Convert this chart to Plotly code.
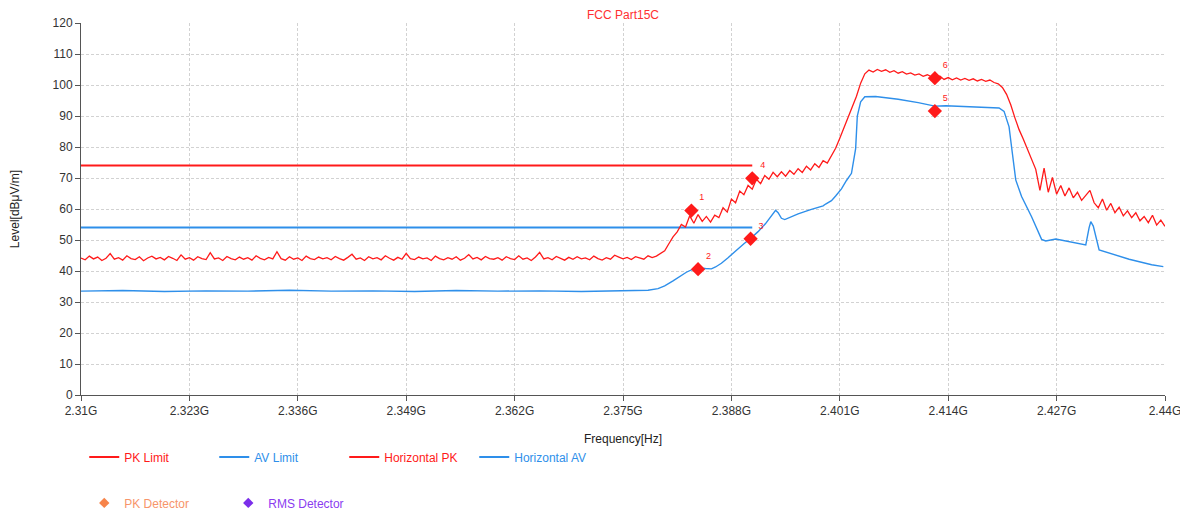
import numpy as np
import plotly.graph_objects as go

RED = "#FF1A1A"
BLUE = "#2E8FEA"

# limit lines (MHz, dBuV/m)
LIMIT_FREQ = [2310.0, 2390.5]
PK_LIMIT = [74.0, 74.0]
AV_LIMIT = [54.0, 54.0]

# peak sweep, 0.5 MHz steps from 2310 to 2440 MHz
PK_START, PK_STOP = 2310.0, 2440.0
HORIZONTAL_PK = [
    44.2, 43.6, 44.8, 43.9, 44.5, 43.4, 44.1, 45.6, 43.8, 44.3, 43.5, 44.9, 44.0, 43.7, 44.6, 43.3, 44.2, 44.8, 43.9, 44.4,
    43.6, 44.7, 44.1, 43.4, 45.2, 43.8, 44.3, 43.5, 44.6, 44.0, 43.7, 45.9, 43.9, 44.2, 43.4, 44.7, 44.0, 43.6, 44.5, 43.8,
    44.3, 43.5, 44.9, 44.1, 43.6, 44.4, 43.9, 46.2, 44.0, 43.5, 44.6, 43.8, 44.2, 43.4, 44.8, 44.0, 43.7, 44.5, 43.9, 44.3,
    43.6, 44.7, 44.0, 43.5, 44.4, 45.4, 43.8, 44.2, 43.4, 44.6, 43.9, 44.3, 43.6, 44.9, 44.1, 43.5, 44.4, 43.8, 45.7, 44.0,
    43.7, 44.5, 43.9, 44.2, 43.4, 44.8, 44.0, 43.6, 44.3, 43.8, 44.6, 43.5, 44.1, 45.3, 43.9, 44.4, 43.6, 44.7, 44.0, 43.8,
    44.3, 43.5, 44.6, 44.0, 43.7, 44.9, 43.8, 44.2, 43.4, 44.5, 46.0, 43.9, 44.3, 43.6, 44.7, 44.1, 43.5, 44.4, 43.8, 44.6,
    43.9, 44.2, 43.6, 44.8, 44.0, 43.5, 44.3, 43.8, 45.1, 44.5, 43.9, 44.4, 43.7, 44.6, 44.1, 43.8, 44.9, 44.3,
    44.8, 45.6, 46.5, 48.8, 51.0, 52.6, 55.0, 54.2, 57.8, 55.4, 58.2, 56.0, 57.6, 55.8, 58.0, 57.2, 60.4, 59.0, 63.2, 62.0,
    65.8, 64.6, 67.6, 66.4, 69.6, 68.2, 70.8, 69.6, 71.8, 70.4, 72.0, 70.6, 72.4, 71.2, 73.0, 71.8, 73.8, 72.6, 74.6, 73.4,
    75.6, 74.8, 77.0, 79.6, 82.8, 86.2, 89.0, 92.6, 96.4, 100.6, 103.6, 104.8, 104.2, 105.0, 104.4, 104.9, 104.1, 104.6, 103.8, 104.3,
    103.5, 103.9, 103.2, 103.6, 102.8, 103.3, 102.6, 102.0, 102.9, 101.8, 102.4, 101.7, 102.3, 101.6, 102.1, 101.5, 102.0, 101.3, 101.8, 101.2,
    101.6, 100.8, 100.4, 99.2, 97.0, 93.6, 89.4, 85.6, 82.6, 79.4, 76.0, 72.8, 66.0, 73.2, 65.4, 70.2, 64.8, 67.6, 64.2, 66.8,
    63.6, 65.4, 62.8, 64.6, 66.0, 62.0, 60.4, 63.2, 59.6, 61.8, 58.8, 60.6, 57.8, 59.4, 57.2, 58.8, 56.2, 57.6, 55.6, 58.0,
    54.8, 56.4, 54.4,
]

# average trace (MHz, dBuV/m)
AV_FREQ = [
    2310, 2315, 2320, 2325, 2330, 2335, 2340, 2345, 2350, 2355, 2360, 2365, 2370, 2375, 2378,
    2379.2, 2380.0, 2381.0, 2382.0, 2382.6, 2383.4, 2384.0, 2384.9, 2385.6, 2386.1, 2386.8, 2387.6,
    2388.6, 2389.5, 2390.3, 2391.2, 2392.1, 2392.8, 2393.3, 2393.6, 2394.0, 2394.4, 2396.0, 2397.5,
    2399.0, 2399.3, 2400.0, 2400.5, 2401.2, 2401.8, 2402.4, 2402.9, 2403.1, 2403.5, 2404.0, 2405.3,
    2408.0, 2410.4, 2411.8, 2412.4, 2413.7, 2416.0, 2418.0, 2420.1, 2420.7, 2421.3, 2421.6, 2422.1,
    2422.8, 2424.0, 2425.2, 2425.7, 2426.9, 2428.8, 2430.5, 2430.9, 2431.1, 2431.4, 2431.6, 2432.1,
    2435.7, 2438.4, 2439.8,
]
HORIZONTAL_AV = [
    33.5, 33.7, 33.4, 33.6, 33.5, 33.8, 33.5, 33.6, 33.4, 33.7, 33.5, 33.6, 33.4, 33.6, 33.8,
    34.3, 35.2, 36.8, 38.5, 39.6, 40.6, 41.0, 40.8, 40.7, 41.3, 42.5, 44.3,
    46.8, 48.8, 50.5, 52.7, 55.3, 57.8, 59.6, 58.8, 57.0, 56.6, 58.4, 59.8,
    61.0, 61.6, 62.7, 64.2, 66.5, 69.2, 71.5, 79.5, 90.0, 94.6, 96.2, 96.3,
    95.4, 94.3, 93.6, 93.2, 93.3, 93.1, 92.9, 92.6, 91.5, 86.5, 80.0, 69.4,
    64.0, 57.5, 50.2, 49.7, 50.3, 49.3, 48.4, 54.0, 55.9, 54.5, 52.0, 46.8,
    43.8, 42.0, 41.4,
]

MARKER_NO = ["1", "2", "3", "4", "5", "6"]
MARKER_FREQ = [2383.2, 2384.0, 2390.3, 2390.5, 2412.4, 2412.4]
MARKER_LEVEL = [59.5, 40.6, 50.4, 69.9, 91.6, 102.2]

X_TICKS = [2310, 2323, 2336, 2349, 2362, 2375, 2388, 2401, 2414, 2427, 2440]
X_TICK_LABELS = ["2.31G", "2.323G", "2.336G", "2.349G", "2.362G", "2.375G",
                 "2.388G", "2.401G", "2.414G", "2.427G", "2.44G"]
Y_TICKS = list(range(0, 121, 10))


def colored(text, color):
    return f'<span style="color:{color}">{text}</span>'


pk_freq = np.linspace(PK_START, PK_STOP, len(HORIZONTAL_PK))

fig = go.Figure()

fig.add_trace(go.Scatter(
    x=LIMIT_FREQ, y=PK_LIMIT, mode="lines", name=colored("PK Limit", RED),
    line=dict(color=RED, width=2), legend="legend",
))
fig.add_trace(go.Scatter(
    x=LIMIT_FREQ, y=AV_LIMIT, mode="lines", name=colored("AV Limit", BLUE),
    line=dict(color=BLUE, width=2), legend="legend",
))
fig.add_trace(go.Scatter(
    x=pk_freq, y=HORIZONTAL_PK, mode="lines", name=colored("Horizontal PK", RED),
    line=dict(color=RED, width=1.3), legendgroup="hpk", showlegend=False,
))
fig.add_trace(go.Scatter(
    x=AV_FREQ, y=HORIZONTAL_AV, mode="lines", name=colored("Horizontal AV", BLUE),
    line=dict(color=BLUE, width=1.4), legendgroup="hav", showlegend=False,
))
# legend swatches for the sweeps, drawn as thick as the limit swatches
fig.add_trace(go.Scatter(
    x=[None], y=[None], mode="lines", name=colored("Horizontal PK", RED),
    line=dict(color=RED, width=2), legendgroup="hpk", legend="legend",
))
fig.add_trace(go.Scatter(
    x=[None], y=[None], mode="lines", name=colored("Horizontal AV", BLUE),
    line=dict(color=BLUE, width=2), legendgroup="hav", legend="legend",
))

# marker points
fig.add_trace(go.Scatter(
    x=MARKER_FREQ, y=MARKER_LEVEL, mode="markers+text", text=MARKER_NO,
    textposition="top right", textfont=dict(color=RED, size=9),
    marker=dict(symbol="diamond", size=11, color=RED),
    showlegend=False, hoverinfo="skip",
))

# detector legend entries
fig.add_trace(go.Scatter(
    x=[None], y=[None], mode="markers", name=colored("PK Detector", "#F7956A"),
    marker=dict(symbol="diamond", size=8, color="#F7844A"), legend="legend2",
))
fig.add_trace(go.Scatter(
    x=[None], y=[None], mode="markers", name=colored("RMS Detector", "#8A3CF0"),
    marker=dict(symbol="diamond", size=8, color="#7B2EEA"), legend="legend2",
))

axis_common = dict(
    showline=True, linecolor="#555555", linewidth=1,
    ticks="outside", ticklen=5, tickcolor="#555555",
    showgrid=True, gridcolor="#D2D2D2", griddash="3px,2px", gridwidth=1,
    zeroline=False, tickfont=dict(size=12, color="#333333"),
)

fig.update_xaxes(
    range=[2310, 2440], tickvals=X_TICKS, ticktext=X_TICK_LABELS,
    title=dict(text="Frequency[Hz]", font=dict(size=12, color="#222222"), standoff=17),
    **axis_common,
)
fig.update_yaxes(
    range=[0, 120], tickvals=Y_TICKS,
    title=dict(text="Level[dBμV/m]", font=dict(size=12, color="#222222"), standoff=31),
    **axis_common,
)

# the page adds an 8px body margin, so the figure is sized to fit inside it
fig.update_layout(
    width=1180,
    height=505,
    plot_bgcolor="white",
    paper_bgcolor="white",
    font=dict(family="Liberation Sans, Arial, sans-serif", size=12, color="#333333"),
    margin=dict(l=73, r=23, t=15, b=118, autoexpand=False),
    title=dict(text="FCC Part15C", font=dict(size=12, color="#FF3030"),
               x=0.5, xref="paper", y=1, yref="container", yanchor="top",
               pad=dict(t=3)),
    legend=dict(
        orientation="h", x=0.003, xanchor="left", y=-0.167, yanchor="middle",
        entrywidth=85, entrywidthmode="pixels", font=dict(size=12),
        bgcolor="rgba(0,0,0,0)", traceorder="normal",
    ),
    legend2=dict(
        orientation="h", x=0.003, xanchor="left", y=-0.29, yanchor="middle",
        entrywidth=99, entrywidthmode="pixels", font=dict(size=12),
        bgcolor="rgba(0,0,0,0)",
    ),
)

fig.write_html("out.html")
